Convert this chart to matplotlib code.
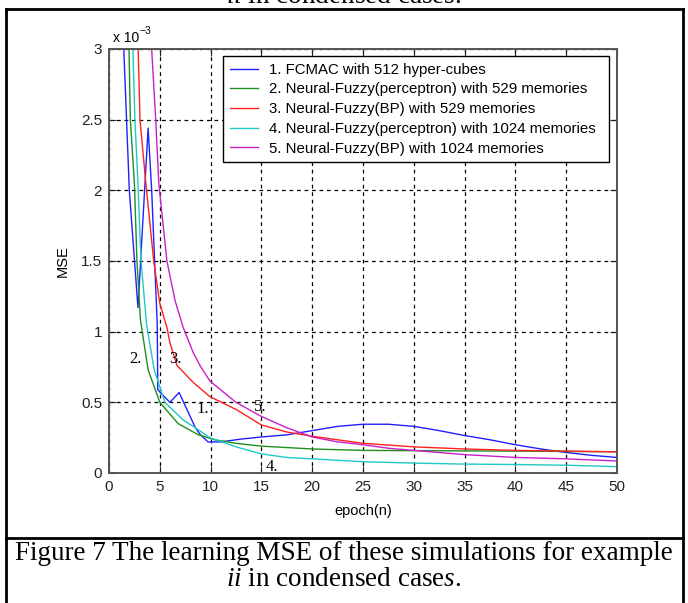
import numpy as np
import matplotlib.pyplot as plt
from matplotlib.lines import Line2D
from matplotlib.patches import Rectangle
from matplotlib.ticker import FormatStrFormatter

# MSE curves (units of 1e-3) against training epoch
ep1 = [1.4, 2.0, 2.85, 3.85, 4.2, 4.75, 4.8, 5.3, 6.0, 6.9, 8.5, 9.0, 9.75, 11, 13, 15, 17.5, 20, 22.5, 25, 27.5, 30, 32.5, 35, 37.5, 40, 42.5, 45, 47.5, 50]
mse1 = [3.1, 2.0, 1.17, 2.44, 2.0, 1.05, 0.59, 0.55, 0.5, 0.57, 0.32, 0.27, 0.22, 0.22, 0.24, 0.255, 0.27, 0.30, 0.33, 0.345, 0.345, 0.33, 0.30, 0.265, 0.235, 0.2, 0.17, 0.145, 0.125, 0.11]

ep2 = [1.9, 1.97, 2.1, 2.5, 2.75, 3.1, 3.85, 5.0, 6.8, 8.8, 10.4, 12.5, 15, 17.5, 20, 25, 30, 40, 50]
mse2 = [3.3, 3.0, 2.5, 2.05, 1.5, 1.08, 0.73, 0.5, 0.35, 0.27, 0.235, 0.21, 0.19, 0.18, 0.17, 0.16, 0.158, 0.155, 0.15]

ep3 = [2.8, 3.05, 3.6, 4.4, 5.0, 5.7, 6.0, 6.7, 8.3, 9.94, 12.5, 15, 17.5, 20, 22.5, 25, 30, 35, 40, 45, 50]
mse3 = [3.2, 2.5, 2.07, 1.5, 1.2, 1.03, 0.92, 0.76, 0.64, 0.54, 0.45, 0.34, 0.29, 0.26, 0.235, 0.21, 0.185, 0.17, 0.16, 0.155, 0.15]

ep4 = [2.3, 2.35, 2.55, 2.85, 3.15, 3.7, 4.45, 5.5, 7.3, 8.5, 9.94, 12.5, 15, 17.5, 20, 25, 30, 35, 40, 45, 50]
mse4 = [3.2, 3.0, 2.5, 2.05, 1.5, 1.05, 0.73, 0.5, 0.375, 0.32, 0.25, 0.185, 0.135, 0.11, 0.1, 0.08, 0.07, 0.063, 0.06, 0.055, 0.045]

ep5 = [4.1, 4.2, 4.6, 4.9, 5.7, 6.5, 7.3, 8.3, 8.96, 9.94, 12.5, 15, 17.5, 20, 22.5, 25, 27.5, 30, 35, 40, 45, 50]
mse5 = [3.2, 3.0, 2.5, 2.05, 1.5, 1.22, 1.03, 0.85, 0.76, 0.65, 0.5, 0.4, 0.32, 0.255, 0.22, 0.2, 0.175, 0.16, 0.13, 0.11, 0.1, 0.085]

labels = ["1. FCMAC with 512 hyper-cubes",
          "2. Neural-Fuzzy(perceptron) with 529 memories",
          "3. Neural-Fuzzy(BP) with 529 memories",
          "4. Neural-Fuzzy(perceptron) with 1024 memories",
          "5. Neural-Fuzzy(BP) with 1024 memories"]
colors = ["#2020ff", "#1f8f1f", "#ff2020", "#20c8c8", "#c820c8"]

# curve tags written on the plot: (text, epoch, mse)
tags = [("1.", 9.2, 0.45), ("2.", 2.6, 0.81), ("3.", 6.5, 0.81), ("4.", 16.0, 0.04), ("5.", 14.9, 0.47)]

plt.rcParams['font.family'] = ['Liberation Sans', 'DejaVu Sans']
plt.rcParams['mathtext.fontset'] = 'custom'
plt.rcParams['mathtext.rm'] = 'Liberation Serif'
plt.rcParams['mathtext.it'] = 'Liberation Serif:italic'

W, H = 688, 603
fig = plt.figure(figsize=(W/100, H/100), dpi=100)
ax = fig.add_axes([109/W, 1-473/H, 508/W, 424/H])

curves = [(ep1, mse1), (ep2, mse2), (ep3, mse3), (ep4, mse4), (ep5, mse5)]
for (x, y), c, lab in zip(curves, colors, labels):
    ax.plot(x, y, color=c, lw=1.0, label=lab)

ax.set_xlim(0, 50)
ax.set_ylim(0, 3)
ax.set_xticks(np.arange(0, 51, 5))
ax.set_yticks(np.arange(0, 3.01, 0.5))
ax.yaxis.set_major_formatter(FormatStrFormatter('%g'))
ax.grid(True, color='black', linestyle=(0, (3, 3)), lw=0.9)
ax.tick_params(direction='in', top=True, right=True, length=5, labelsize=11, colors='#222222', pad=5)
for s in ax.spines.values():
    s.set_color('#555555')
    s.set_linewidth(1.4)

ax.set_xlabel("epoch(n)", fontsize=10.5, labelpad=7)
ax.set_ylabel("MSE", fontsize=10.5, labelpad=8)

# scale factor above the y axis
fig.text(113/W, 1-38/H, "x 10", fontsize=10, va='center', ha='left')
fig.text(139/W, 1-31/H, "\u22123", fontsize=7.5, va='center', ha='left')

for t, x, y in tags:
    ax.text(x, y, t, fontsize=12, family='Liberation Serif', ha='center', va='center')

# legend box drawn separately so it can carry a wider right margin
box = Rectangle((223/W, 1-162/H), (609-223)/W, (162-56)/H, transform=fig.transFigure,
                facecolor='white', edgecolor='black', lw=1.0, zorder=4.5, clip_on=False)
ax.add_patch(box)
leg = ax.legend(loc='upper left', bbox_to_anchor=(223/W, 1-56/H), bbox_transform=fig.transFigure,
                fontsize=10.8, frameon=False, handlelength=1.9, handletextpad=0.7,
                labelspacing=0.38, borderpad=0.45, borderaxespad=0)

# page frame around the figure and caption
def hline(y, x0=6, x1=683):
    fig.add_artist(Line2D([x0/W, x1/W], [1-y/H, 1-y/H], color='black', lw=2))

def vline(x, y0=9, y1=603):
    fig.add_artist(Line2D([x/W, x/W], [1-y0/H, 1-y1/H], color='black', lw=2))

hline(9)
hline(538)
vline(6)
vline(683)

fig.text(0.5, 1-3/H, r"$\mathit{ii}$ in condensed cases.", family='Liberation Serif',
         fontsize=19.5, ha='center', va='baseline')
fig.text(0.5, 1-553/H, "Figure 7 The learning MSE of these simulations for example",
         family='Liberation Serif', fontsize=19.5, ha='center', va='center')
fig.text(0.5, 1-580/H, r"$\mathit{ii}$ in condensed case$\mathit{s}$.", family='Liberation Serif',
         fontsize=19.5, ha='center', va='center')

fig.savefig("out.png", dpi=100)
